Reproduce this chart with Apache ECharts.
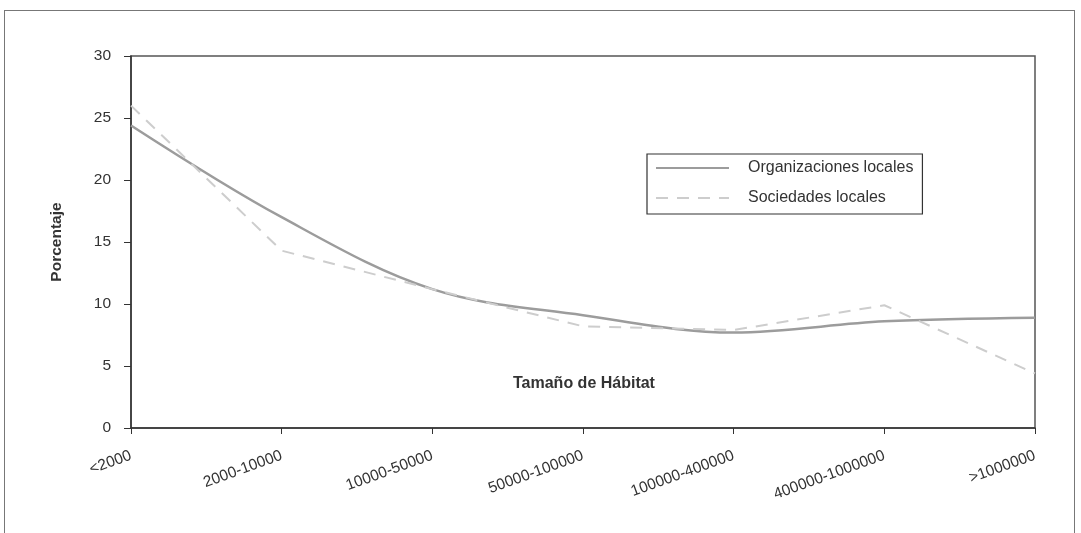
<!DOCTYPE html>
<html><head><meta charset="utf-8">
<script src="https://cdn.jsdelivr.net/npm/echarts@6/dist/echarts.min.js"></script>
<style>html,body{margin:0;padding:0;background:#fff}#c{width:1081px;height:533px}
#f{position:absolute;left:4px;top:10px;width:1071px;height:540px;border:1.5px solid #777;border-bottom:none;box-sizing:border-box;pointer-events:none}</style>
</head><body><div id="c"></div><div id="f"></div>
<script>
const categories = ['<2000','2000-10000','10000-50000','50000-100000','100000-400000','400000-1000000','>1000000'];
const organizaciones = [24.4, 17.0, 11.2, 9.1, 7.7, 8.6, 8.9];
const sociedades = [26.0, 14.3, 11.2, 8.2, 7.9, 9.9, 4.4];
const yTicks = [0, 5, 10, 15, 20, 25, 30];
const xAxisTitle = 'Tamaño de Hábitat';
const yAxisTitle = 'Porcentaje';

const FONT = 'Liberation Sans, Arial, sans-serif';
const chart = echarts.init(document.getElementById('c'));
chart.setOption({
  animation: false,
  backgroundColor: '#fff',
  grid: { left: 131, right: 46, top: 56, bottom: 105, show: true, borderColor: '#555', borderWidth: 1.5, containLabel: false },
  title: { text: xAxisTitle, left: 513, top: 376, padding: 0,
    textStyle: { fontFamily: FONT, fontSize: 16, fontWeight: 'bold', color: '#333' } },
  legend: {
    orient: 'vertical', left: 647, top: 154,
    padding: [6, 9, 8, 8], itemGap: 14,
    borderColor: '#333', borderWidth: 1.2,
    itemWidth: 73, itemHeight: 16,
    itemStyle: { opacity: 0 },
    textStyle: { fontFamily: FONT, fontSize: 16, lineHeight: 16, color: '#333', padding: [0, 0, 0, 14] },
    data: ['Organizaciones locales', 'Sociedades locales']
  },
  xAxis: {
    type: 'category', data: categories, boundaryGap: false,
    axisLine: { lineStyle: { color: '#333', width: 1.5 } },
    axisTick: { show: true, length: 6, alignWithLabel: true, lineStyle: { color: '#333' } },
    axisLabel: { rotate: 20, margin: 27, interval: 0, color: '#333', fontFamily: FONT, fontSize: 15.5 }
  },
  yAxis: {
    type: 'value', min: 0, max: 30, interval: 5,
    name: yAxisTitle, nameLocation: 'middle', nameGap: 66,
    nameTextStyle: { fontFamily: FONT, fontSize: 15.5, fontWeight: 'bold', color: '#333' },
    axisLine: { show: true, lineStyle: { color: '#333', width: 1.5 } },
    axisTick: { show: true, length: 7, lineStyle: { color: '#333' } },
    splitLine: { show: false },
    axisLabel: { margin: 20, color: '#333', fontFamily: FONT, fontSize: 15.5,
      formatter: v => yTicks.includes(v) ? String(v) : '' }
  },
  series: [
    { name: 'Organizaciones locales', type: 'line', data: organizaciones, smooth: 0.35,
      symbol: 'none', lineStyle: { color: '#9c9c9c', width: 2.5 }, itemStyle: { color: '#9c9c9c' } },
    { name: 'Sociedades locales', type: 'line', data: sociedades, smooth: false,
      symbol: 'none', lineStyle: { color: '#cdcdcd', width: 2, type: [12, 9] }, itemStyle: { color: '#cdcdcd' } }
  ]
});
</script></body></html>
